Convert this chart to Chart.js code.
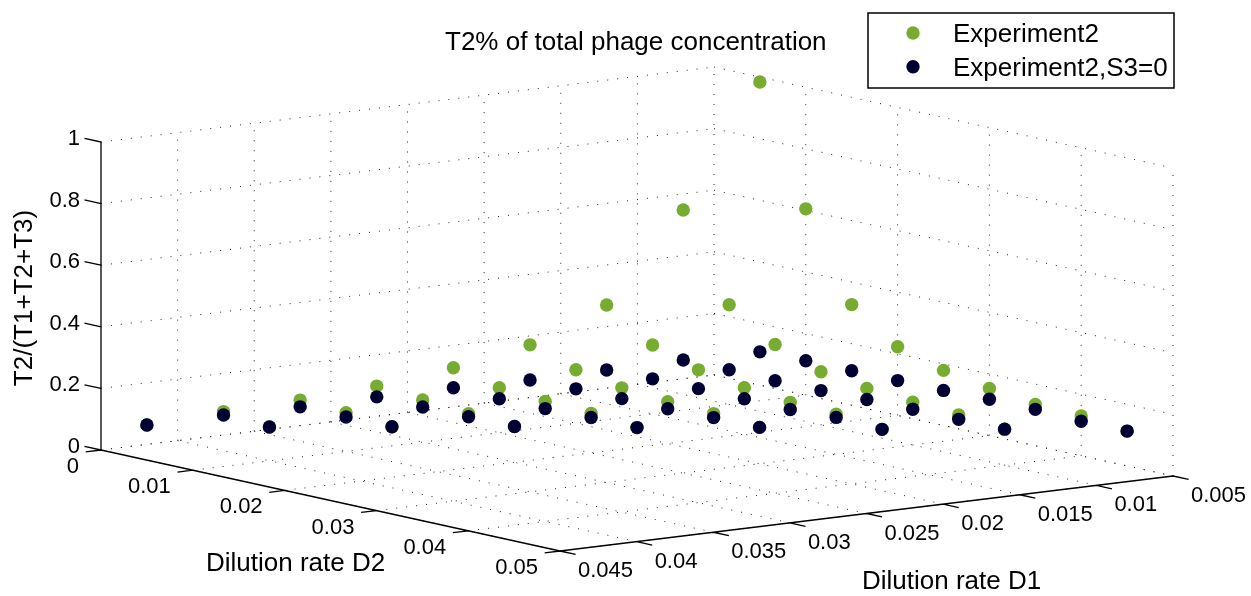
<!DOCTYPE html>
<html>
<head>
<meta charset="utf-8">
<title>T2% of total phage concentration</title>
<script src="https://cdn.jsdelivr.net/npm/chart.js@4/dist/chart.umd.min.js"></script>
<style>
  html, body { margin:0; padding:0; background:#fff; }
  canvas { display:block; }
</style>
</head>
<body>
<canvas id="chart" width="1251" height="596"></canvas>
<script>
// tick values
var d1Ticks = [0.045, 0.04, 0.035, 0.03, 0.025, 0.02, 0.015, 0.01, 0.005];
var d2Ticks = [0, 0.01, 0.02, 0.03, 0.04, 0.05];
var zTicks = [0, 0.2, 0.4, 0.6, 0.8, 1];
var d1Labels = ['0.045','0.04','0.035','0.03','0.025','0.02','0.015','0.01','0.005'];
var d2Labels = ['0','0.01','0.02','0.03','0.04','0.05'];
var zLabels = ['0','0.2','0.4','0.6','0.8','1'];

// sampled D1 rows, each row holds D2 = 0.005, 0.01, 0.015 ...
var d1Rows = [0.045, 0.04, 0.035, 0.03, 0.025, 0.02, 0.015, 0.01, 0.005];
var d2Step = 0.005;

// T2/(T1+T2+T3) per D1 row
var experiment2 = [
  [.114],
  [.127,.110],
  [.134,.126,.113],
  [.149,.137,.125,.116],
  [.178,.146,.134,.128,.115],
  [.222,.174,.148,.136,.130,.118],
  [.321,.224,.176,.151,.136,.130,.114],
  [.599,.324,.228,.172,.151,.139,.130,.117],
  [.984,.605,.327,.223,.179,.153,.134,.129,.113]
];
var experiment2S3 = [
  [.114],
  [.116,.110],
  [.112,.112,.113],
  [.114,.114,.115,.116],
  [.113,.110,.111,.115,.115],
  [.108,.112,.113,.113,.117,.118],
  [.110,.114,.115,.115,.113,.120,.114],
  [.112,.113,.110,.111,.115,.116,.116,.117],
  [.108,.112,.112,.113,.114,.118,.118,.112,.113]
];

// orthographic view of the box, px
function project(d1, d2, z) {
  return {
    x: 101 + d2 * 9180 + (0.045 - d1) * 15325,
    y: 450 + d2 * 2020 - (0.045 - d1) * 1875 - z * 308
  };
}

function toPoints(rows) {
  var pts = [];
  rows.forEach(function(row, i) {
    row.forEach(function(v, j) {
      pts.push(project(d1Rows[i], d2Step * (j + 1), v));
    });
  });
  return pts;
}

function seg(list, a, b) {
  list.push(a, b, {x:NaN, y:NaN});
}

// dotted grid on the floor and the two back walls
var gridPts = [];
d2Ticks.forEach(function(d2) {
  seg(gridPts, project(0.045, d2, 0), project(0.005, d2, 0));
  if (d2 > 0) seg(gridPts, project(0.005, d2, 0), project(0.005, d2, 1));
});
d1Ticks.forEach(function(d1) {
  seg(gridPts, project(d1, 0, 0), project(d1, 0.05, 0));
  if (d1 < 0.045) seg(gridPts, project(d1, 0, 0), project(d1, 0, 1));
});
zTicks.forEach(function(z) {
  seg(gridPts, project(0.045, 0, z), project(0.005, 0, z));
  seg(gridPts, project(0.005, 0, z), project(0.005, 0.05, z));
});

// solid axis lines and tick marks
var axisPts = [];
seg(axisPts, project(0.045, 0, 0), project(0.045, 0, 1));
seg(axisPts, project(0.045, 0, 0), project(0.045, 0.05, 0));
seg(axisPts, project(0.045, 0.05, 0), project(0.005, 0.05, 0));
zTicks.forEach(function(z) {
  seg(axisPts, project(0.045, 0, z), project(0.045, -0.0018, z));
});
d2Ticks.forEach(function(d2) {
  seg(axisPts, project(0.045, d2, 0), project(0.046, d2, 0));
});
d1Ticks.forEach(function(d1) {
  seg(axisPts, project(d1, 0.05, 0), project(d1, 0.0517, 0));
});

function drawText(ctx, text, x, y, size, align, rot) {
  ctx.save();
  ctx.translate(x, y);
  if (rot) ctx.rotate(rot);
  ctx.font = size + 'px "Liberation Sans", Arial, sans-serif';
  ctx.fillStyle = '#000';
  ctx.textAlign = align;
  ctx.textBaseline = 'middle';
  ctx.fillText(text, 0, 0);
  ctx.restore();
}

var textPlugin = {
  id:'textPlugin',
  afterDraw:function(chart) {
    var ctx = chart.ctx;
    zTicks.forEach(function(z, i) {
      var p = project(0.045, 0, z);
      drawText(ctx, zLabels[i], p.x - 21, p.y - 3, 22, 'right');
    });
    d2Ticks.forEach(function(d2, i) {
      var p = project(0.045, d2, 0);
      drawText(ctx, d2Labels[i], p.x - 22, p.y + 17, 22, 'right');
    });
    d1Ticks.forEach(function(d1, i) {
      var p = project(d1, 0.05, 0);
      drawText(ctx, d1Labels[i], p.x + 18, p.y + 20, 22, 'left');
    });
    drawText(ctx, 'T2% of total phage concentration', 445, 43, 26, 'left');
    drawText(ctx, 'Dilution rate D2', 206, 564, 26, 'left');
    drawText(ctx, 'Dilution rate D1', 862, 582, 26, 'left');
    drawText(ctx, 'T2/(T1+T2+T3)', 25, 298, 26, 'center', -Math.PI / 2);

    // legend box
    ctx.save();
    ctx.fillStyle = '#fff';
    ctx.strokeStyle = '#000';
    ctx.lineWidth = 1.5;
    ctx.fillRect(868, 13, 306, 75);
    ctx.strokeRect(868, 13, 306, 75);
    [0, 1].forEach(function(i) {
      var ds = chart.data.datasets[i];
      ctx.beginPath();
      ctx.arc(913, 33 + i * 33.7, 6.7, 0, Math.PI * 2);
      ctx.fillStyle = ds.backgroundColor;
      ctx.fill();
      drawText(ctx, ds.label, 953, 35 + i * 34, 26, 'left');
    });
    ctx.restore();
  }
};

new Chart(document.getElementById('chart'), {
  type:'scatter',
  data:{
    datasets:[
      { label:'Experiment2', data:toPoints(experiment2), backgroundColor:'#77AC30', pointRadius:6.7, pointBorderWidth:0, order:2 },
      { label:'Experiment2,S3=0', data:toPoints(experiment2S3), backgroundColor:'#000033', pointRadius:6.7, pointBorderWidth:0, order:1 },
      { label:'grid', data:gridPts, showLine:true, pointRadius:0, borderColor:'#222', borderWidth:1, borderDash:[1,9], order:10 },
      // the long dash keeps vertical segments out of the line fast path
      { label:'axes', data:axisPts, showLine:true, pointRadius:0, borderColor:'#000', borderWidth:1.3, borderDash:[2000,0], order:9 }
    ]
  },
  options:{
    responsive:false,
    animation:false,
    layout:{padding:0, autoPadding:false},
    plugins:{legend:{display:false}, tooltip:{enabled:false}},
    scales:{
      x:{type:'linear', min:0, max:1251, display:false},
      y:{type:'linear', min:0, max:596, reverse:true, display:false}
    }
  },
  plugins:[textPlugin]
});
</script>
</body>
</html>
